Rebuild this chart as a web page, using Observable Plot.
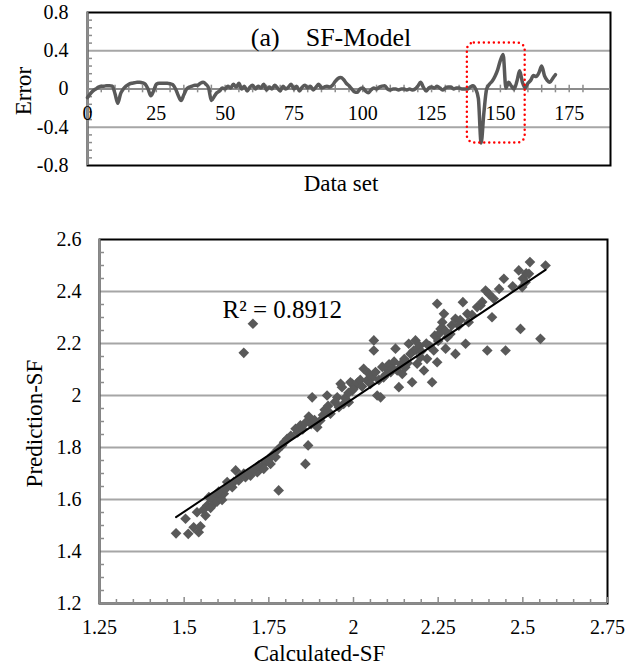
<!DOCTYPE html>
<html>
<head>
<meta charset="utf-8">
<script src="https://cdn.jsdelivr.net/npm/d3@7"></script>
<script src="https://cdn.jsdelivr.net/npm/@observablehq/plot@0.6"></script>
<style>
  html, body { margin: 0; padding: 0; background: white; }
  #chart { width: 638px; height: 671px; position: relative; }
  #chart svg { display: block; font-family: "Liberation Serif", "Times New Roman", serif !important; }
  #chart svg text { font-family: "Liberation Serif", "Times New Roman", serif !important; fill: black; }
</style>
</head>
<body>
<div id="chart"></div>
<script>
// ---------- Panel (a): error series ----------
const errorValues = [
  -0.09,-0.05,-0.02,0.00,0.02,0.03,0.03,0.035,0.035,0.03,
  -0.05,-0.15,-0.05,0.00,0.03,0.05,0.06,0.065,0.07,0.07,
  0.065,0.05,0.00,-0.07,-0.02,0.05,0.06,0.06,0.06,0.06,
  0.055,0.045,0.00,-0.07,-0.12,-0.06,0.00,0.02,0.03,0.04,
  0.04,0.06,0.07,0.05,0.01,-0.12,-0.08,-0.04,-0.02,0.01,
  0.00,0.03,0.01,0.05,0.02,0.06,0.00,0.03,-0.02,0.02,
  0.04,0.00,0.03,0.01,0.05,-0.01,0.02,0.00,0.04,0.01,
  -0.02,0.03,0.00,0.02,0.05,0.00,0.03,-0.02,0.02,0.04,
  0.01,0.03,-0.01,0.02,0.05,0.01,0.02,0.03,0.02,0.04,
  0.08,0.11,0.12,0.10,0.06,0.035,0.00,-0.03,-0.035,0.00,
  0.01,-0.02,-0.04,-0.01,0.01,0.00,0.02,0.03,0.035,0.00,
  -0.01,0.00,0.00,-0.01,0.00,0.00,-0.01,0.00,-0.01,0.00,
  0.03,0.07,0.02,-0.02,0.01,0.02,0.01,0.03,0.01,-0.01,
  0.01,0.02,0.02,0.00,0.01,0.01,0.00,0.00,0.00,0.02,
  0.035,0.00,-0.10,-0.565,-0.25,0.00,0.05,0.08,0.13,0.20,
  0.30,0.36,0.01,0.07,0.03,0.00,0.08,0.19,0.07,0.01,
  0.06,0.09,0.14,0.13,0.17,0.24,0.14,0.09,0.07,0.11,
  0.15
];
const errorYTicks = [-0.8, -0.4, 0, 0.4, 0.8];
const errorXTicks = [0, 25, 50, 75, 100, 125, 150, 175];
const highlightX = [138, 159];
const highlightY = [-0.565, 0.48];
const panelTitle = "(a)\u00a0\u00a0\u00a0\u00a0SF-Model";

// ---------- Panel (b): scatter ----------
const calcSF = [
  1.476,1.504,1.512,1.528,1.543,1.538,1.563,1.568,1.573,1.587,
  1.592,1.607,1.617,1.627,1.642,1.652,1.661,1.681,1.696,1.716,
  1.730,1.740,1.755,1.770,1.779,1.789,1.804,1.829,1.843,1.858,
  1.866,1.868,1.878,1.893,1.902,1.922,1.932,1.957,1.966,1.986,
  1.996,1.952,1.962,1.971,1.991,1.996,2.006,2.030,2.040,2.055,
  2.060,2.060,2.070,2.080,2.089,2.099,2.124,2.129,2.134,2.144,
  2.153,2.163,2.173,2.178,2.183,2.188,2.198,2.208,2.217,2.232,
  2.237,2.247,2.247,2.257,2.262,2.267,2.272,2.277,2.286,2.301,
  2.301,2.311,2.323,2.331,2.336,2.340,2.365,2.375,2.390,2.395,
  2.409,2.414,2.444,2.449,2.488,2.493,2.498,2.508,2.518,2.521,
  2.552,2.567,1.676,1.703,1.548,1.556,1.578,1.582,1.597,1.602,
  1.612,1.622,1.632,1.647,1.666,1.676,1.690,1.706,1.720,1.735,
  1.750,1.760,1.775,1.795,1.815,1.835,1.850,1.858,1.875,1.885,
  1.910,1.915,1.925,1.945,1.975,1.985,2.000,2.012,2.020,2.025,
  2.045,2.050,2.065,2.075,2.085,2.095,2.105,2.110,2.115,2.120,
  2.140,2.150,2.160,2.168,2.185,2.195,2.200,2.215,2.225,2.240,
  2.250,2.255,2.262,2.270,2.290,2.315,2.350,2.380,2.400,2.430,
  2.470,2.500,2.510
];
const predSF = [
  1.470,1.526,1.468,1.493,1.474,1.551,1.538,1.577,1.609,1.583,
  1.615,1.609,1.622,1.667,1.647,1.712,1.673,1.686,1.692,1.705,
  1.724,1.744,1.737,1.763,1.635,1.808,1.833,1.872,1.885,1.737,
  1.808,1.919,1.993,1.878,1.904,2.000,1.930,1.955,2.032,1.974,
  2.045,1.993,2.045,1.968,2.051,2.019,2.038,2.103,2.058,2.070,
  2.212,2.173,2.000,1.993,2.070,2.103,2.180,2.096,2.032,2.083,
  2.109,2.199,2.051,2.173,2.212,2.122,2.147,2.096,2.141,2.051,
  2.173,2.128,2.353,2.256,2.282,2.314,2.180,2.224,2.237,2.160,
  2.295,2.269,2.359,2.199,2.314,2.282,2.340,2.346,2.404,2.173,
  2.301,2.372,2.449,2.173,2.481,2.256,2.417,2.436,2.468,2.513,
  2.218,2.500,2.164,2.276,1.497,1.560,1.568,1.598,1.592,1.630,
  1.598,1.640,1.655,1.668,1.690,1.700,1.700,1.715,1.730,1.718,
  1.755,1.770,1.790,1.820,1.845,1.858,1.870,1.895,1.890,1.905,
  1.925,1.945,1.960,1.975,1.990,2.010,2.025,2.050,2.060,2.035,
  2.085,2.045,2.090,2.060,2.110,2.080,2.120,2.090,2.105,2.130,
  2.120,2.140,2.125,2.160,2.175,2.190,2.170,2.200,2.190,2.230,
  2.210,2.240,2.260,2.250,2.270,2.290,2.310,2.360,2.390,2.410,
  2.420,2.450,2.470
];
const trendX = [1.476, 2.567];
const trendY = [1.532, 2.483];
const r2Label = "R\u00b2 = 0.8912";
const scatterXTicks = [1.25, 1.5, 1.75, 2, 2.25, 2.5, 2.75];
const scatterYTicks = [1.2, 1.4, 1.6, 1.8, 2, 2.2, 2.4, 2.6];

// ---------- helpers ----------
const fmt = d => (d < 0 ? "-" : "") + String(+Math.abs(d).toFixed(2));
const FONT = "Liberation Serif";
const GRID = "#a6a6a6";
const AXIS = "#8c8c8c";
const INK = "#595959";

// ---------- top plot ----------
const errData = errorValues.map((e, i) => ({i, e}));
const topMinorY = d3.range(-0.8, 0.8001, 0.08).map(v => +v.toFixed(2)).filter(v => !errorYTicks.some(t => Math.abs(t - v) < 1e-6));
const topMinorX = d3.range(0, 181, 5);

const topChart = Plot.plot({
  width: 638, height: 200,
  marginLeft: 87, marginRight: 28, marginTop: 12, marginBottom: 35,
  x: {domain: [0, 190], axis: null},
  y: {domain: [-0.8, 0.8], axis: null},
  style: {fontFamily: FONT, fontSize: "20px", color: "black", background: "white"},
  marks: [
    Plot.ruleY(errorYTicks.filter(v => Math.abs(v) > 0 && Math.abs(v) < 0.8), {stroke: GRID, strokeWidth: 2}),
    Plot.frame({stroke: "black", strokeWidth: 2}),
    Plot.ruleX([0], {stroke: AXIS, strokeWidth: 2}),
    Plot.ruleY([0], {stroke: AXIS, strokeWidth: 2}),
    Plot.axisY(topMinorY, {tickSize: -5, tickFormat: () => "", stroke: AXIS, strokeWidth: 1.5, label: null}),
    Plot.axisY(errorYTicks, {tickSize: 0, tickPadding: 19, tickFormat: fmt, label: null, fontSize: 20}),
    Plot.ruleX(topMinorX, {x: d => d, y1: -0.04, y2: 0.04, stroke: AXIS, strokeWidth: 1.5}),
    Plot.text(errorXTicks, {x: d => d, y: () => 0, text: d => String(d), dy: 25, fontSize: 20, lineAnchor: "middle"}),
    Plot.line(errData, {x: "i", y: "e", stroke: INK, strokeWidth: 3.5, strokeLinejoin: "round", curve: "monotone-x"}),
    Plot.rect([{x1: highlightX[0], x2: highlightX[1], y1: highlightY[0], y2: highlightY[1]}],
      {x1: "x1", x2: "x2", y1: "y1", y2: "y2", fill: "none", stroke: "#ff0000", strokeWidth: 2.5,
       strokeDasharray: "0,5", strokeLinecap: "round", rx: 7}),
    Plot.text([panelTitle], {frameAnchor: "top", lineAnchor: "middle", textAnchor: "middle", dx: -18, dy: 25, fontSize: 26}),
    Plot.text(["Error"], {frameAnchor: "left", lineAnchor: "middle", textAnchor: "middle", rotate: -90, dx: -64, dy: 2, fontSize: 23}),
    Plot.text(["Data set"], {frameAnchor: "bottom", lineAnchor: "middle", textAnchor: "middle", dx: -8, dy: 18, fontSize: 23})
  ]
});

// ---------- bottom plot ----------
const pts = calcSF.map((x, k) => ({x, y: predSF[k]}));
const trend = trendX.map((x, k) => ({x, y: trendY[k]}));
const botMinorY = d3.range(1.2, 2.6001, 0.05).map(v => +v.toFixed(2)).filter(v => !scatterYTicks.some(t => Math.abs(t - v) < 1e-6));
const botMinorX = d3.range(1.25, 2.7501, 0.05).map(v => +v.toFixed(2)).filter(v => !scatterXTicks.some(t => Math.abs(t - v) < 1e-6));

const bottomChart = Plot.plot({
  width: 638, height: 471,
  marginLeft: 99, marginRight: 31, marginTop: 39, marginBottom: 68,
  x: {domain: [1.25, 2.75], axis: null},
  y: {domain: [1.2, 2.6], axis: null},
  style: {fontFamily: FONT, fontSize: "20px", color: "black", background: "white"},
  marks: [
    Plot.ruleY(scatterYTicks.filter(v => v > 1.21 && v < 2.59), {stroke: GRID, strokeWidth: 2}),
    Plot.frame({stroke: "black", strokeWidth: 2}),
    Plot.ruleX([1.25], {stroke: AXIS, strokeWidth: 2}),
    Plot.ruleY([1.2], {stroke: AXIS, strokeWidth: 2}),
    Plot.axisY(botMinorY, {tickSize: -5, tickFormat: () => "", stroke: AXIS, strokeWidth: 1.5, label: null}),
    Plot.axisX(botMinorX, {tickSize: -4, tickFormat: () => "", stroke: AXIS, strokeWidth: 1.5, label: null}),
    Plot.axisX(scatterXTicks, {tickSize: -6, tickFormat: () => "", stroke: AXIS, strokeWidth: 1.5, label: null}),
    Plot.axisY(scatterYTicks, {tickSize: 0, tickPadding: 18, tickFormat: fmt, label: null, fontSize: 20}),
    Plot.axisX(scatterXTicks, {tickSize: 0, tickPadding: 16, tickFormat: fmt, label: null, fontSize: 20}),
    Plot.dot(pts, {x: "x", y: "y", symbol: "diamond2", r: 4.8, fill: INK, stroke: "none"}),
    Plot.line(trend, {x: "x", y: "y", stroke: "black", strokeWidth: 2}),
    Plot.text([r2Label], {frameAnchor: "top-left", lineAnchor: "middle", textAnchor: "start", dx: 123, dy: 70, fontSize: 25}),
    Plot.text(["Prediction-SF"], {frameAnchor: "left", lineAnchor: "middle", textAnchor: "middle", rotate: -90, dx: -65, dy: 2, fontSize: 23}),
    Plot.text(["Calculated-SF"], {frameAnchor: "bottom", lineAnchor: "middle", textAnchor: "middle", dx: -34, dy: 50, fontSize: 23})
  ]
});

const root = document.getElementById("chart");
root.appendChild(topChart);
root.appendChild(bottomChart);
</script>
</body>
</html>
